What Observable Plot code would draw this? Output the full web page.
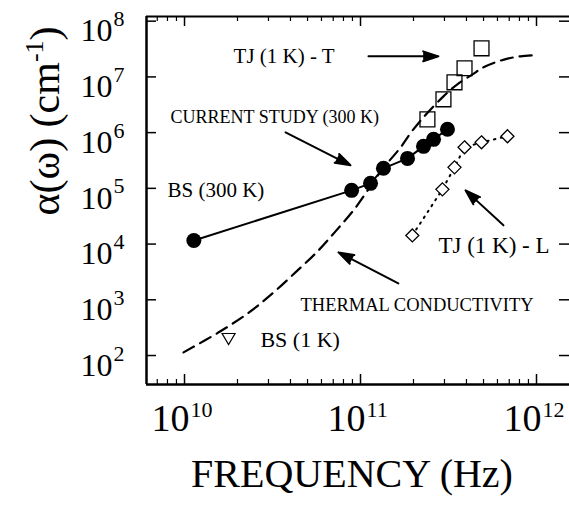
<!DOCTYPE html>
<html><head><meta charset="utf-8">
<script src="https://cdn.jsdelivr.net/npm/d3@7"></script>
<script src="https://cdn.jsdelivr.net/npm/@observablehq/plot@0.6"></script>
<style>body{margin:0;background:#fff}</style>
</head><body><div id="chart"></div>
<script>
// ---- data ----
const bs300Freq = [1.13e10, 8.9e10];
const bs300Alpha = [1.16e4, 9.2e4];
const currentFreq = [1.14e11, 1.35e11, 1.85e11, 2.28e11, 2.6e11, 3.12e11];
const currentAlpha = [1.23e5, 2.29e5, 3.45e5, 5.67e5, 7.57e5, 1.15e6];
const tjTFreq = [2.40e11, 2.96e11, 3.42e11, 3.90e11, 4.87e11];
const tjTAlpha = [1.73e6, 3.96e6, 8.0e6, 1.43e7, 3.26e7];
const tjLFreq = [1.97e11, 2.92e11, 3.42e11, 3.90e11, 4.87e11, 6.84e11];
const tjLAlpha = [1.43e4, 9.6e4, 2.38e5, 5.45e5, 6.7e5, 8.6e5];
const bs1Freq = [1.78e10];
const bs1Alpha = [203];
const thermFreq = [9.87e9, 1.60e10, 2.37e10, 3.21e10, 4.39e10, 5.70e10, 7.21e10, 9.12e10, 1.14e11, 1.33e11, 1.69e11, 1.92e11, 2.25e11, 2.96e11, 3.61e11, 4.33e11, 5.00e11, 5.85e11, 6.93e11, 8.11e11, 9.49e11];
const thermAlpha = [114, 272, 621, 1360, 3370, 7400, 1.69e4, 4.03e4, 1.09e5, 2.19e5, 5.44e5, 9.71e5, 1.80e6, 4.48e6, 7.66e6, 1.11e7, 1.49e7, 1.83e7, 2.15e7, 2.34e7, 2.44e7];

// annotation labels
const labelText = ["TJ (1 K) - T", "CURRENT STUDY (300 K)", "BS (300 K)", "TJ (1 K) - L", "THERMAL CONDUCTIVITY", "BS (1 K)"];
const labelFreq = [1.90e10, 8.32e9, 8.0e9, 2.77e11, 4.56e10, 2.70e10];
const labelAlpha = [2.34e7, 1.88e6, 9.2e4, 9.5e3, 794, 187];
const labelSize = [21, 18, 21, 23, 18.5, 22];

// annotation arrows
const arrowFreq1 = [1.11e11, 3.75e10, 6.49e11, 1.64e11];
const arrowAlpha1 = [2.34e7, 1.01e6, 2.17e4, 1.97e3];
const arrowFreq2 = [2.77e11, 8.77e10, 3.95e11, 7.5e10];
const arrowAlpha2 = [2.34e7, 2.59e5, 9.2e4, 7.1e3];

// ticks
const xMajor = [1e10, 1e11, 1e12];
const xTickExp = ["10", "11", "12"];
const yMajor = [1e2, 1e3, 1e4, 1e5, 1e6, 1e7, 1e8];
const yTickExp = ["2", "3", "4", "5", "6", "7", "8"];

// ---- build tables ----
const zip = (xs, ys) => xs.map((x, i) => ({x, y: ys[i]}));
const circles = zip(bs300Freq.concat(currentFreq), bs300Alpha.concat(currentAlpha));
const squares = zip(tjTFreq, tjTAlpha);
const diamonds = zip(tjLFreq, tjLAlpha);
const tri = zip(bs1Freq, bs1Alpha);
const therm = zip(thermFreq, thermAlpha);
const labels = labelText.map((t, i) => ({t, x: labelFreq[i], y: labelAlpha[i], s: labelSize[i]}));
const arrows = arrowFreq1.map((x1, i) => ({x1, y1: arrowAlpha1[i], x2: arrowFreq2[i], y2: arrowAlpha2[i]}));

const xDomain = [10 ** 9.784, 10 ** 12.1875];
const yDomain = [10 ** 1.48, 10 ** 8.084];
const xMinor = [];
for (let e = 9; e <= 12; e++) for (let m = 2; m <= 9; m++) {
  const v = m * 10 ** e;
  if (v > xDomain[0] && v < xDomain[1]) xMinor.push(v);
}

const W = 569, H = 508, mL = 146, mR = 0, mT = 16, mB = 124;
const pw = W - mL - mR, ph = H - mT - mB;

const diamondSym = {draw(ctx, size) {
  const r = Math.sqrt(size / Math.PI);
  ctx.moveTo(0, -r); ctx.lineTo(r, 0); ctx.lineTo(0, r); ctx.lineTo(-r, 0); ctx.closePath();
}};
const triDownSym = {draw(ctx, size) {
  const r = Math.sqrt(size / Math.PI);
  ctx.moveTo(-r, -0.75 * r); ctx.lineTo(r, -0.75 * r); ctx.lineTo(0, 0.95 * r); ctx.closePath();
}};

const plot = Plot.plot({
  width: W, height: H,
  marginLeft: mL, marginRight: mR, marginTop: mT, marginBottom: mB,
  style: {fontFamily: "'Liberation Serif', 'Times New Roman', serif", background: "white", color: "black"},
  x: {type: "log", domain: xDomain, axis: null},
  y: {type: "log", domain: yDomain, axis: null},
  marks: [
    // frame
    Plot.ruleY([yDomain[0]], {strokeWidth: 2.5}),
    Plot.ruleY([yDomain[1]], {strokeWidth: 2}),
    Plot.ruleX([xDomain[0]], {strokeWidth: 2.5}),
    // ticks
    Plot.tickX(xMajor, {x: d => d, insetTop: ph - 10, strokeWidth: 1.5}),
    Plot.tickX(xMinor, {x: d => d, insetTop: ph - 5, strokeWidth: 1.2}),
    Plot.tickX(xMajor, {x: d => d, insetBottom: ph - 10, strokeWidth: 1.5}),
    Plot.tickX(xMinor, {x: d => d, insetBottom: ph - 5, strokeWidth: 1.2}),
    Plot.tickY(yMajor, {y: d => d, insetRight: pw - 10, strokeWidth: 1.5}),
    Plot.tickY(yMajor, {y: d => d, insetLeft: pw - 10, strokeWidth: 1.5}),
    // tick labels
    Plot.text(xMajor, {x: d => d, frameAnchor: "bottom", text: () => "10", textAnchor: "start", dx: -33, dy: 46, fontSize: 38}),
    Plot.text(xMajor, {x: d => d, frameAnchor: "bottom", text: (d, i) => xTickExp[i], textAnchor: "start", dx: 6, dy: 32, fontSize: 22}),
    Plot.text(yMajor, {y: d => d, frameAnchor: "left", text: () => "10", textAnchor: "end", dx: -34, dy: 10, fontSize: 32}),
    Plot.text(yMajor, {y: d => d, frameAnchor: "left", text: (d, i) => yTickExp[i], textAnchor: "start", dx: -33, dy: -2, fontSize: 22}),
    // axis titles
    Plot.text(["FREQUENCY (Hz)"], {frameAnchor: "bottom", text: d => d, dx: -6, dy: 102, fontSize: 40}),
    Plot.text(["α(ω) (cm-1)"], {frameAnchor: "left", text: d => d, rotate: -90, dx: -101, dy: 15, fontSize: 42}),
    // series
    Plot.line(therm, {x: "x", y: "y", stroke: "black", strokeWidth: 2.2, strokeDasharray: "12,7", curve: "catmull-rom"}),
    Plot.line(diamonds, {x: "x", y: "y", stroke: "black", strokeWidth: 2, strokeDasharray: "1.5,5.5"}),
    Plot.line(circles, {x: "x", y: "y", stroke: "black", strokeWidth: 2}),
    Plot.dot(circles, {x: "x", y: "y", r: 7.5, fill: "black", stroke: "none"}),
    Plot.dot(squares, {x: "x", y: "y", symbol: "square", r: 8.4, fill: "none", stroke: "black", strokeWidth: 1.3}),
    Plot.dot(diamonds, {x: "x", y: "y", symbol: diamondSym, r: 6.5, fill: "white", stroke: "black", strokeWidth: 1.3}),
    Plot.dot(tri, {x: "x", y: "y", symbol: triDownSym, r: 6.5, fill: "none", stroke: "black", strokeWidth: 1.2}),
    // annotations
    Plot.arrow(arrows, {x1: "x1", y1: "y1", x2: "x2", y2: "y2", stroke: "black", fill: "black", strokeWidth: 2, headLength: 12, headAngle: 36}),
    Plot.text(labels, {x: "x", y: "y", text: "t", textAnchor: "start", fontSize: d => d.s})
  ]
});

// superscript in y title
plot.querySelectorAll("text").forEach(el => {
  if (el.textContent === "α(ω) (cm-1)") {
    el.textContent = "";
    const ns = "http://www.w3.org/2000/svg";
    const a = document.createElementNS(ns, "tspan"); a.textContent = "α(ω) (cm";
    const b = document.createElementNS(ns, "tspan"); b.textContent = "-1"; b.setAttribute("font-size", "26"); b.setAttribute("dy", "-16");
    const c = document.createElementNS(ns, "tspan"); c.textContent = ")"; c.setAttribute("dy", "16");
    el.append(a, b, c);
  }
});
document.getElementById("chart").append(plot);
</script>
</body></html>
